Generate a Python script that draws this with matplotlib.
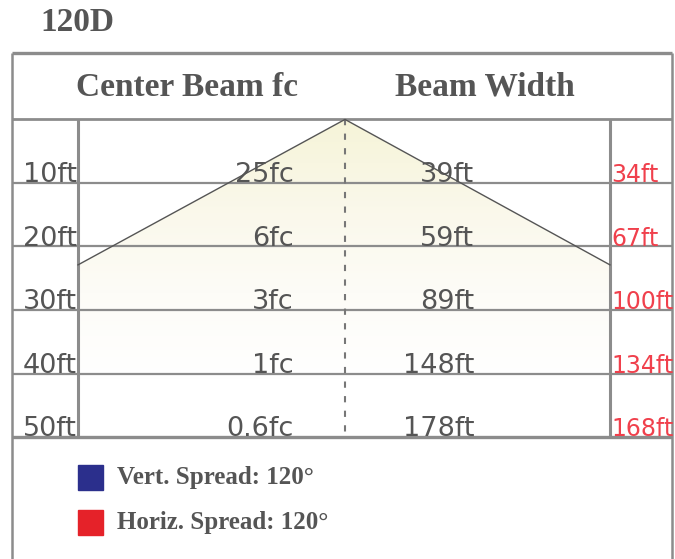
import numpy as np
import matplotlib.pyplot as plt
from matplotlib.patches import Polygon
from matplotlib.colors import LinearSegmentedColormap

distances = [10, 20, 30, 40, 50]
center_fc = ['25fc', '6fc', '3fc', '1fc', '0.6fc']
beam_width = ['39ft', '59ft', '89ft', '148ft', '178ft']
horiz_width = ['34ft', '67ft', '100ft', '134ft', '168ft']
row_labels = ['%dft' % d for d in distances]

legend_labels = ['Vert. Spread: 120°', 'Horiz. Spread: 120°']
legend_colors = ['#2b2f8c', '#e52229']

title = '120D'
headers = ['Center Beam fc', 'Beam Width']

GRAY_TXT = '#555555'
LINE = '#8c8c8c'
SERIF = ['Liberation Serif', 'DejaVu Serif']

fig = plt.figure(figsize=(6.75, 5.59), dpi=100)
ax = fig.add_axes([0, 0, 1, 1])
ax.set_xlim(0, 675)
ax.set_ylim(69.2, -18.8)   # y axis in feet, downwards
ax.axis('off')

x_left, x_right = 12, 672
x_in_l, x_in_r, x_mid = 78, 610, 345
header_top = -10.4
beam_end = 22.9
shade_end = 41

# beam shading: soft vertical gradient clipped to the cone
cmap = LinearSegmentedColormap.from_list('beam', ['#f6f4d8', '#faf8ea', '#fdfcf7', '#ffffff'])
grad = np.linspace(0, 1, 200).reshape(-1, 1)
im = ax.imshow(grad, cmap=cmap, aspect='auto', extent=(x_in_l, x_in_r, shade_end, 0),
               interpolation='bilinear', zorder=0)
clip = Polygon([(x_mid, 0), (x_in_r, beam_end), (x_in_r, shade_end),
                (x_in_l, shade_end), (x_in_l, beam_end)], closed=True,
               transform=ax.transData, facecolor='none', edgecolor='none')
ax.add_patch(clip)
im.set_clip_path(clip)
ax.set_xlim(0, 675)
ax.set_ylim(69.2, -18.8)
ax.plot([x_in_l, x_mid, x_in_r], [beam_end, 0, beam_end], color='#555555', lw=1.0, zorder=3)

# grid
ax.hlines(header_top, x_left, x_right, color=LINE, lw=2.4, zorder=2)
ax.hlines(0, x_left, x_right, color=LINE, lw=2.0, zorder=2)
ax.hlines(distances[:-1], x_left, x_right, color=LINE, lw=1.6, zorder=2)
ax.hlines(distances[-1], x_left, x_right, color=LINE, lw=2.4, zorder=2)
ax.vlines([x_left, x_right], header_top, 75, color=LINE, lw=1.8, zorder=2)
ax.vlines([x_in_l, x_in_r], 0, distances[-1], color=LINE, lw=2.2, zorder=2)
ax.vlines(x_mid, 0, distances[-1], color='#777777', lw=1.5,
          linestyles=(0, (3, 4)), zorder=2)

# texts
ax.text(40, -15.2, title, family=SERIF, weight='bold', fontsize=24,
        color=GRAY_TXT, ha='left', va='center')
ax.text(187, -5.1, headers[0], family=SERIF, weight='bold', fontsize=24,
        color=GRAY_TXT, ha='center', va='center')
ax.text(485, -5.1, headers[1], family=SERIF, weight='bold', fontsize=24,
        color=GRAY_TXT, ha='center', va='center')

for d, lab, fc, bw, hw in zip(distances, row_labels, center_fc, beam_width, horiz_width):
    ax.text(23, d - 0.1, lab, fontsize=19.5, color=GRAY_TXT, ha='left', va='baseline', zorder=4)
    ax.text(294, d - 0.1, fc, fontsize=19.5, color=GRAY_TXT, ha='right', va='baseline', zorder=4)
    ax.text(474, d - 0.1, bw, fontsize=19.5, color=GRAY_TXT, ha='right', va='baseline', zorder=4)
    ax.text(611, d - 0.1, hw, fontsize=17, color='#f0404c', ha='left', va='baseline', zorder=4)

# legend
for i, (lab, col) in enumerate(zip(legend_labels, legend_colors)):
    yy = 56.3 + i * 7.1
    ax.plot([89.5], [yy], marker='s', markersize=18, color=col, lw=0)
    ax.text(117, yy, lab, family=SERIF, weight='bold', fontsize=18,
            color=GRAY_TXT, ha='left', va='center')

fig.savefig('out.png', dpi=100)
